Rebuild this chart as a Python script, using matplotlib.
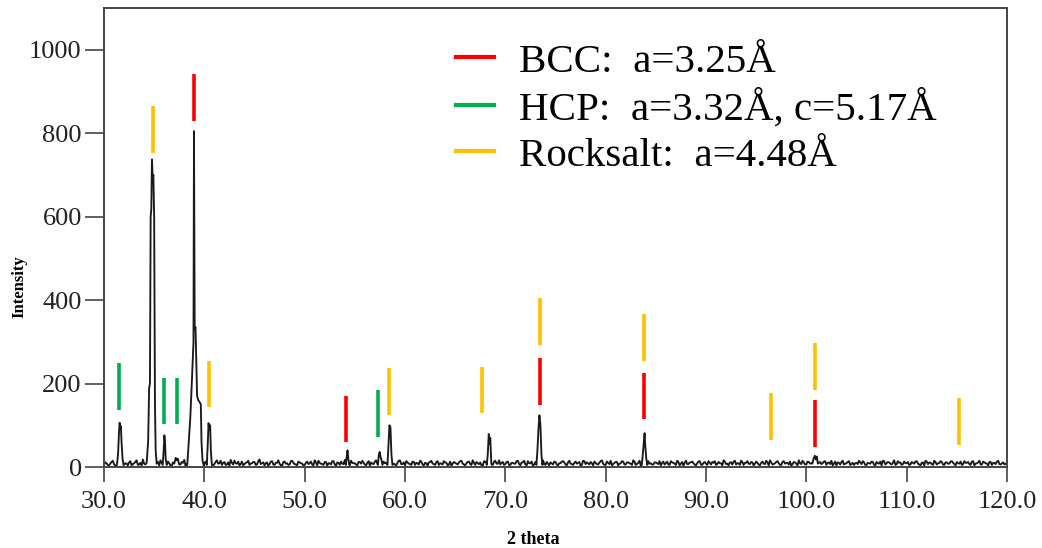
import numpy as np
import matplotlib
matplotlib.use("Agg")
import matplotlib.pyplot as plt
from matplotlib.lines import Line2D

plt.rcParams["font.family"] = ["Liberation Serif", "DejaVu Serif"]

# background noise, one reading every 0.25 deg from 30 to 120
baseline = [
    6, 9, 4, 12, 7, 3, 10, 14, 5, 8, 11, 4, 9, 16, 6, 3, 8, 12, 5, 9,
    13, 7, 4, 10, 15, 6, 9, 3, 11, 8, 5, 12, 17, 7, 4, 9, 13, 6, 10, 5,
    8, 14, 4, 11, 7, 16, 9, 5, 12, 6, 3, 10, 15, 8, 4, 13, 7, 11, 5, 9,
    12, 6, 18, 9, 4, 11, 7, 14, 5, 10, 8, 3, 13, 9, 6, 15, 7, 4, 11, 8,
    5, 13, 9, 6, 16, 4, 10, 7, 12, 3, 9, 14, 6, 11, 5, 8, 17, 7, 4, 10,
    9, 4, 12, 15, 6, 10, 3, 8, 13, 7, 11, 5, 9, 14, 4, 12, 6, 10, 16, 7,
    4, 11, 7, 13, 5, 9, 15, 6, 10, 3, 12, 8, 5, 14, 9, 6, 11, 4, 13, 8,
    10, 6, 14, 8, 4, 12, 7, 16, 5, 9, 11, 3, 13, 7, 10, 5, 15, 8, 6, 12,
    7, 13, 5, 10, 8, 15, 4, 11, 6, 14, 9, 3, 12, 7, 10, 16, 5, 8, 11, 6,
    12, 4, 9, 14, 6, 11, 8, 5, 13, 10, 3, 15, 7, 9, 12, 4, 10, 6, 14, 8,
    5, 10, 15, 7, 12, 4, 9, 13, 6, 11, 8, 16, 5, 10, 3, 12, 7, 14, 9, 6,
    11, 7, 4, 13, 9, 6, 14, 10, 5, 12, 8, 3, 15, 7, 11, 9, 4, 13, 6, 10,
    8, 14, 6, 10, 5, 12, 9, 16, 7, 4, 11, 13, 6, 9, 15, 5, 10, 8, 12, 4,
    13, 6, 10, 8, 15, 4, 11, 7, 12, 9, 5, 14, 10, 6, 3, 12, 8, 16, 7, 11,
    6, 12, 9, 4, 14, 10, 7, 13, 5, 11, 15, 8, 4, 10, 12, 6, 9, 14, 7, 5,
    10, 15, 7, 11, 5, 9, 13, 6, 12, 8, 4, 14, 9, 11, 6, 16, 7, 10, 5, 13,
    9, 5, 12, 8, 14, 6, 10, 4, 13, 11, 7, 15, 6, 9, 12, 5, 11, 8, 14, 7,
    12, 8, 5, 14, 10, 7, 13, 4, 9, 15, 6, 11, 8, 12, 5, 10, 13, 7, 9, 6,
    8,
]
# readings halfway between the ones above (30.125, 30.375, ...)
baseline_mid = [
    11, 5, 8, 15, 3, 10, 6, 13, 9, 4, 14, 7, 12, 5, 10, 18, 6, 9, 13, 4,
    7, 12, 16, 5, 9, 13, 4, 11, 8, 15, 6, 10, 3, 12, 9, 5, 14, 8, 11, 16,
    13, 6, 9, 4, 12, 8, 15, 10, 5, 11, 17, 6, 9, 13, 7, 4, 10, 15, 8, 12,
    5, 14, 7, 11, 9, 3, 13, 6, 10, 16, 4, 12, 8, 5, 14, 10, 6, 13, 9, 4,
    10, 7, 13, 4, 11, 15, 8, 5, 12, 9, 6, 14, 3, 10, 13, 7, 11, 5, 15, 9,
    6, 12, 8, 10, 4, 14, 11, 7, 16, 5, 9, 13, 10, 6, 12, 8, 4, 15, 7, 11,
    14, 8, 5, 12, 10, 6, 13, 4, 9, 11, 15, 7, 12, 5, 8, 14, 10, 6, 3, 12,
    8, 11, 15, 6, 9, 13, 5, 10, 12, 7, 4, 14, 9, 11, 6, 13, 8, 16, 10, 5,
    12, 5, 10, 8, 14, 7, 11, 15, 4, 9, 13, 6, 10, 5, 14, 8, 12, 4, 9, 13,
    6, 9, 13, 11, 4, 15, 7, 10, 8, 12, 5, 14, 11, 6, 9, 13, 7, 10, 16, 5,
    13, 7, 4, 10, 12, 8, 14, 6, 11, 9, 5, 13, 7, 15, 10, 4, 12, 8, 6, 11,
    9, 14, 10, 6, 13, 5, 11, 8, 15, 4, 12, 10, 7, 11, 13, 6, 9, 14, 5, 12,
    5, 10, 12, 14, 7, 9, 4, 13, 8, 11, 6, 15, 9, 5, 12, 10, 14, 7, 11, 8,
    10, 4, 13, 7, 11, 16, 6, 9, 14, 5, 12, 8, 10, 13, 7, 11, 4, 9, 15, 6,
    13, 8, 6, 11, 5, 12, 9, 14, 10, 7, 4, 13, 11, 6, 15, 8, 12, 5, 10, 9,
    7, 11, 14, 5, 10, 8, 12, 4, 9, 13, 15, 6, 12, 8, 10, 5, 14, 11, 7, 9,
    12, 6, 10, 13, 8, 4, 11, 15, 7, 10, 5, 12, 9, 14, 6, 11, 8, 13, 10, 4,
    9, 13, 7, 10, 12, 5, 14, 8, 11, 6, 13, 9, 4, 12, 10, 7, 15, 6, 11, 8,
]

# measured peak profiles (2theta, intensity)
peaks = [
    [(31.3, 8), (31.4, 30), (31.5, 85), (31.56, 106), (31.62, 92), (31.68, 98), (31.75, 60), (31.85, 20), (31.95, 5)],
    [(34.25, 10), (34.4, 60), (34.5, 190), (34.58, 200), (34.65, 600), (34.72, 620), (34.78, 737),
     (34.86, 690), (34.92, 700), (35.0, 600), (35.08, 150), (35.15, 40), (35.25, 8)],
    [(35.85, 5), (35.95, 40), (36.02, 76), (36.08, 60), (36.15, 20), (36.25, 5)],
    [(37.0, 8), (37.15, 22), (37.25, 16), (37.35, 20), (37.5, 6)],
    [(38.3, 5), (38.45, 60), (38.6, 117), (38.75, 200), (38.85, 262), (38.92, 300), (38.97, 805),
     (39.04, 330), (39.12, 335), (39.2, 250), (39.28, 170), (39.4, 160), (39.55, 155), (39.65, 150),
     (39.72, 60), (39.82, 15), (39.95, 3)],
    [(40.25, 5), (40.35, 60), (40.42, 105), (40.5, 90), (40.58, 100), (40.65, 40), (40.75, 5)],
    [(54.1, 5), (54.2, 25), (54.27, 40), (54.35, 20), (54.45, 5)],
    [(57.3, 5), (57.4, 30), (57.48, 36), (57.55, 25), (57.65, 18), (57.75, 5)],
    [(58.25, 5), (58.35, 50), (58.45, 100), (58.55, 95), (58.65, 30), (58.75, 5)],
    [(68.15, 5), (68.25, 30), (68.35, 79), (68.42, 55), (68.5, 70), (68.6, 10)],
    [(73.1, 5), (73.2, 40), (73.3, 90), (73.4, 124), (73.5, 100), (73.6, 30), (73.7, 5)],
    [(83.6, 5), (83.7, 30), (83.8, 60), (83.88, 81), (83.95, 50), (84.05, 20), (84.15, 5)],
    [(100.6, 8), (100.75, 22), (100.85, 27), (100.95, 18), (101.05, 25), (101.15, 8)],
]

# reference reflection markers: position, lower end, upper end
bcc_pos = [38.95, 54.15, 73.5, 83.86, 100.86]
bcc_lo = [830, 60, 148, 115, 49]
bcc_hi = [943, 171, 261, 226, 160]

hcp_pos = [31.53, 36.02, 37.29, 57.28]
hcp_lo = [136, 103, 103, 72]
hcp_hi = [249, 213, 213, 184]

rs_pos = [34.86, 40.51, 58.38, 67.63, 73.5, 83.86, 96.47, 100.86, 115.2]
rs_lo = [752, 143, 124, 129, 292, 254, 65, 185, 53]
rs_hi = [864, 254, 237, 239, 404, 366, 177, 297, 165]

phase_labels = ["BCC:  a=3.25Å", "HCP:  a=3.32Å, c=5.17Å", "Rocksalt:  a=4.48Å"]
phase_colors = ["#FF0000", "#00B050", "#FFC000"]

# merge background and peaks into one pattern
bx = np.concatenate([np.linspace(30, 120, len(baseline)),
                     np.linspace(30.125, 119.875, len(baseline_mid))])
by = np.array(baseline + baseline_mid, dtype=float)
keep = np.ones(len(bx), dtype=bool)
px, py = [], []
for pk in peaks:
    xs = [p[0] for p in pk]
    keep &= ~((bx >= xs[0]) & (bx <= xs[-1]))
    px += xs
    py += [p[1] for p in pk]
x = np.concatenate([bx[keep], px])
y = np.concatenate([by[keep], py])
order = np.argsort(x)
x, y = x[order], y[order]

fig = plt.figure(figsize=(10.42, 5.48), dpi=100)
ax = fig.add_axes([0.0998, 0.1478, 0.8666, 0.8376])

ax.plot(x, y, color="#1a1a1a", lw=1.35)

for pos, lo, hi, c in [(bcc_pos, bcc_lo, bcc_hi, phase_colors[0]),
                       (hcp_pos, hcp_lo, hcp_hi, phase_colors[1]),
                       (rs_pos, rs_lo, rs_hi, phase_colors[2])]:
    ax.vlines(pos, lo, hi, colors=c, lw=2.6)

ax.set_xlim(30, 120)
ax.set_ylim(0, 1100)
ax.set_xticks(np.arange(30, 121, 10))
ax.set_xticklabels([f"{v:.1f}" for v in np.arange(30, 121, 10)])
ax.set_yticks(np.arange(0, 1001, 200))

for s in ax.spines.values():
    s.set_color("#444444")
    s.set_linewidth(1.4)
ax.tick_params(axis="x", direction="out", length=11, width=1.2, color="#444444",
               labelsize=19, labelcolor="#222222", pad=6)
ax.tick_params(axis="y", direction="out", length=14, width=1.2, color="#444444",
               labelsize=19, labelcolor="#222222", pad=2)

ax.set_xlabel("2 theta", fontsize=13, fontweight="bold", va="top")
ax.xaxis.set_label_coords(0.475, -0.139)
ax.set_ylabel("Intensity", fontsize=12, fontweight="bold", va="center")
ax.yaxis.set_label_coords(-0.094, 0.392)

handles = [Line2D([], [], color=c, lw=3) for c in phase_colors]
ax.legend(handles, phase_labels, loc="upper left", bbox_to_anchor=(0.390, 0.924),
          frameon=False, fontsize=29.5, handlelength=0.93, handletextpad=0.6,
          labelspacing=0.21, borderaxespad=0, borderpad=0)

fig.savefig("out.png", dpi=100)
